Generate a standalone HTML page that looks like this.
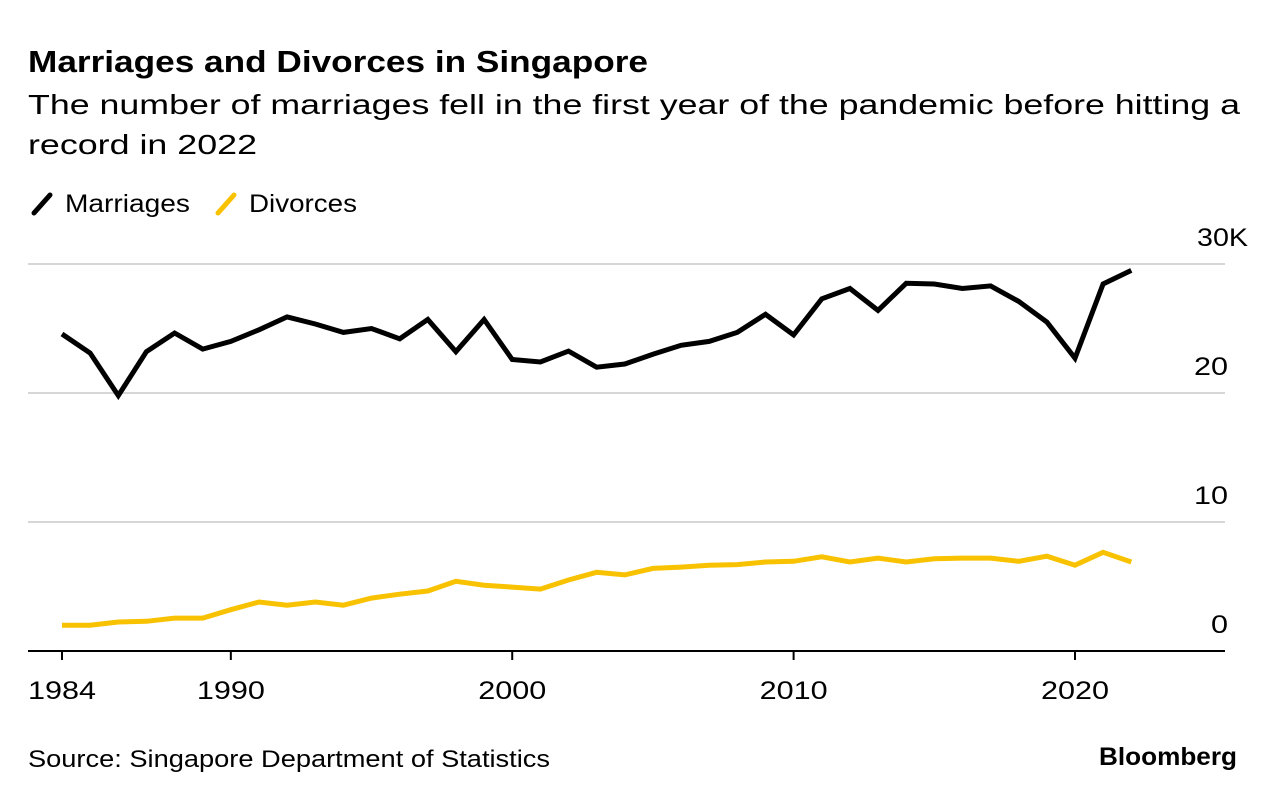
<!DOCTYPE html>
<html><head><meta charset="utf-8"><style>
body{margin:0;background:#fff;width:1276px;height:800px;overflow:hidden;font-family:"Liberation Sans",sans-serif;}
</style></head><body>
<svg width="1276" height="800" style="font-family:'Liberation Sans',sans-serif">
<text x="28" y="72" font-size="31" font-weight="bold" fill="#000" textLength="620" lengthAdjust="spacingAndGlyphs">Marriages and Divorces in Singapore</text>
<text x="28" y="114" font-size="28" fill="#000" textLength="1212" lengthAdjust="spacingAndGlyphs">The number of marriages fell in the first year of the pandemic before hitting a</text>
<text x="28" y="154" font-size="28" fill="#000" textLength="229" lengthAdjust="spacingAndGlyphs">record in 2022</text>
<g>
<line x1="34" y1="213" x2="50" y2="195" stroke="#000" stroke-width="5" stroke-linecap="round"/>
<text x="65" y="212" font-size="25" fill="#000" textLength="125" lengthAdjust="spacingAndGlyphs">Marriages</text></g>
<g>
<line x1="218" y1="213" x2="234" y2="195" stroke="#f8c200" stroke-width="5" stroke-linecap="round"/>
<text x="249" y="212" font-size="25" fill="#000" textLength="108" lengthAdjust="spacingAndGlyphs">Divorces</text></g>
<g id="grid"></g><g id="xaxis"></g><g id="series"></g>
<text x="28" y="767" font-size="24" fill="#000" textLength="522" lengthAdjust="spacingAndGlyphs">Source: Singapore Department of Statistics</text>
<text x="1237" y="765" font-size="25" font-weight="bold" fill="#000" text-anchor="end" textLength="138" lengthAdjust="spacingAndGlyphs">Bloomberg</text>
</svg>
<script>
const years=[];for(let y=1984;y<=2022;y++)years.push(y);
const marriages=[24.57,23.1,19.8,23.2,24.65,23.4,24.0,24.9,25.9,25.35,24.7,25.0,24.2,25.7,23.2,25.7,22.6,22.4,23.25,22.0,22.25,23.0,23.7,24.0,24.7,26.1,24.5,27.3,28.1,26.4,28.5,28.45,28.1,28.3,27.1,25.5,22.7,28.45,29.5];
const divorces=[2.0,2.0,2.25,2.3,2.55,2.55,3.2,3.8,3.55,3.8,3.55,4.1,4.4,4.65,5.4,5.1,4.95,4.8,5.5,6.1,5.9,6.4,6.5,6.65,6.7,6.9,6.95,7.3,6.9,7.2,6.9,7.15,7.2,7.2,6.95,7.35,6.65,7.65,6.9];
const yTicks=[0,10,20,30];
const yTickLabels=["0","10","20","30K"];
const xTicks=[1984,1990,2000,2010,2020];
const NS="http://www.w3.org/2000/svg";
const xs=y=>62+(y-1984)*(1075-62)/36;
const ys=v=>651-v*12.9;
function mk(tag,attrs,parent){const e=document.createElementNS(NS,tag);for(const k in attrs)e.setAttribute(k,attrs[k]);document.getElementById(parent).appendChild(e);return e;}
yTicks.forEach((t,i)=>{
 if(t>0){const l=mk('line',{x1:28,x2:1225,y1:ys(t),y2:ys(t),stroke:'#d6d6d6','stroke-width':2},'grid');
 
 }
 const lbl=yTickLabels[i];
 const rx=lbl.endsWith('K')?1248:1228;
 const tx=mk('text',{x:rx,y:ys(t)-18,'font-size':25,'text-anchor':'end',fill:'#000',textLength:lbl.length*17,lengthAdjust:'spacingAndGlyphs'},'grid');
 tx.textContent=lbl;
 
 
});
const ax=mk('line',{x1:28,x2:1225,y1:651,y2:651,stroke:'#000','stroke-width':2},'xaxis');


xTicks.forEach(t=>{
 const tk=mk('line',{x1:xs(t),x2:xs(t),y1:651,y2:660,stroke:'#000','stroke-width':2},'xaxis');
 
 
 const tx=mk('text',{x:xs(t),y:699,'font-size':25,'text-anchor':'middle',fill:'#000',textLength:68,lengthAdjust:'spacingAndGlyphs'},'xaxis');
 tx.textContent=t;
 
 
});
function line(vals,color,name){
 const d=vals.map((v,i)=>(i?'L':'M')+xs(years[i]).toFixed(1)+','+ys(v).toFixed(1)).join('');
 const p=mk('path',{d:d,fill:'none',stroke:color,'stroke-width':5,'stroke-linejoin':'miter'},'series');
 
 
}
line(divorces,'#f8c200','divorces-line');
line(marriages,'#000','marriages-line');
</script>
</body></html>
